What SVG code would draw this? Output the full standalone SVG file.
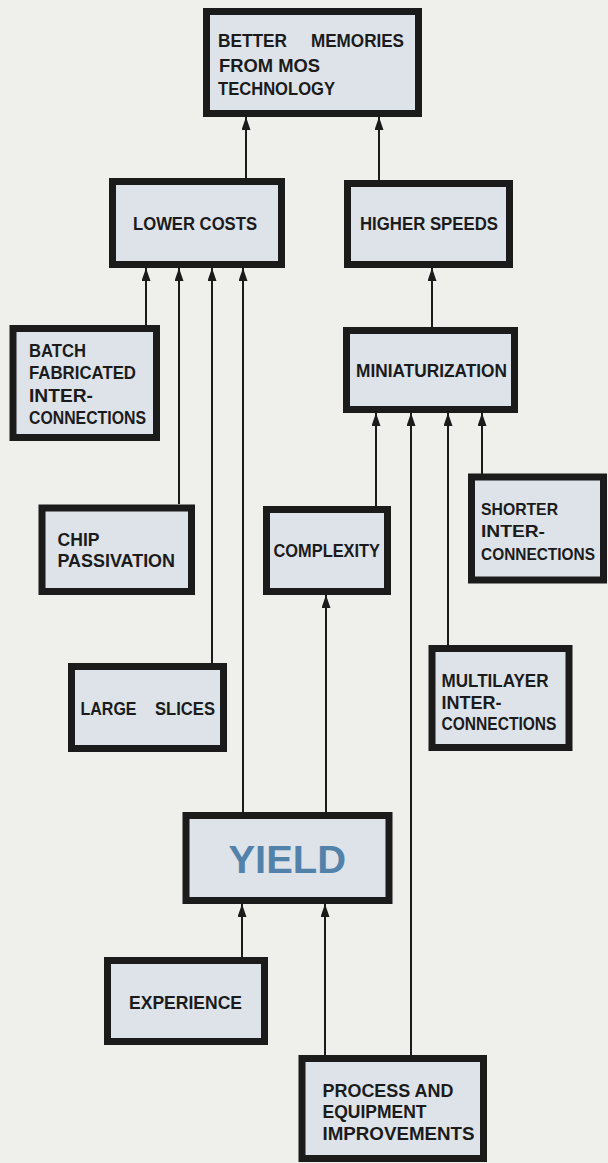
<svg xmlns="http://www.w3.org/2000/svg" width="608" height="1163" viewBox="0 0 608 1163">
<defs>
<style>
.bg{fill:#efefec}
.box{fill:#dde3e9;stroke:#1b1b1b;stroke-width:7}
.lbl{font-family:"Liberation Sans",Arial,sans-serif;font-weight:bold;font-size:19px;fill:#1b1b1b}
.sm{font-size:16.5px}
.yield{font-family:"Liberation Sans",Arial,sans-serif;font-weight:bold;font-size:38px;fill:#5282aa}
.cn{stroke:#1b1b1b;stroke-width:2;fill:none;marker-end:url(#ah)}
</style>
<marker id="ah" markerUnits="userSpaceOnUse" markerWidth="14" markerHeight="10" refX="13" refY="4.5" orient="auto">
<path d="M0,0 L13,4.5 L0,9 Z" fill="#1b1b1b"/>
</marker>
</defs>
<rect class="bg" x="0" y="0" width="608" height="1163"/>

<g id="connectors">
<line class="cn" x1="246" y1="178" x2="246" y2="117"/>
<line class="cn" x1="379" y1="180" x2="379" y2="117"/>
<line class="cn" x1="146" y1="325" x2="146" y2="268"/>
<line class="cn" x1="179" y1="504" x2="179" y2="268"/>
<line class="cn" x1="212" y1="663" x2="212" y2="268"/>
<line class="cn" x1="243" y1="812" x2="243" y2="268"/>
<line class="cn" x1="432" y1="327" x2="432" y2="268"/>
<line class="cn" x1="376" y1="506" x2="376" y2="413"/>
<line class="cn" x1="411" y1="1055" x2="411" y2="413"/>
<line class="cn" x1="448" y1="645" x2="448" y2="413"/>
<line class="cn" x1="482" y1="474" x2="482" y2="413"/>
<line class="cn" x1="326" y1="812" x2="326" y2="595"/>
<line class="cn" x1="242" y1="957" x2="242" y2="904"/>
<line class="cn" x1="325" y1="1055" x2="325" y2="904"/>
</g>

<g id="better-memories">
<rect class="box" x="206.5" y="11.5" width="212" height="102"/>
<text class="lbl" y="47"><tspan x="218" textLength="69" lengthAdjust="spacingAndGlyphs">BETTER</tspan><tspan x="311" textLength="93" lengthAdjust="spacingAndGlyphs">MEMORIES</tspan></text>
<text class="lbl" x="219" y="72" textLength="101" lengthAdjust="spacingAndGlyphs">FROM MOS</text>
<text class="lbl" x="218" y="95" textLength="117" lengthAdjust="spacingAndGlyphs">TECHNOLOGY</text>
</g>

<g id="lower-costs">
<rect class="box" x="112.5" y="181.5" width="169" height="83"/>
<text class="lbl" x="133" y="230" textLength="124" lengthAdjust="spacingAndGlyphs">LOWER COSTS</text>
</g>

<g id="higher-speeds">
<rect class="box" x="347.5" y="183.5" width="162" height="81"/>
<text class="lbl" x="360" y="230" textLength="138" lengthAdjust="spacingAndGlyphs">HIGHER SPEEDS</text>
</g>

<g id="batch">
<rect class="box" x="13" y="328.5" width="143.5" height="109"/>
<text class="lbl" x="29" y="357" textLength="57" lengthAdjust="spacingAndGlyphs">BATCH</text>
<text class="lbl" x="29" y="379" textLength="107" lengthAdjust="spacingAndGlyphs">FABRICATED</text>
<text class="lbl" x="29" y="401.5" textLength="64" lengthAdjust="spacingAndGlyphs">INTER-</text>
<text class="lbl" x="29" y="424" textLength="117" lengthAdjust="spacingAndGlyphs">CONNECTIONS</text>
</g>

<g id="miniaturization">
<rect class="box" x="346.5" y="330.5" width="168" height="79"/>
<text class="lbl" x="356" y="377" textLength="151" lengthAdjust="spacingAndGlyphs">MINIATURIZATION</text>
</g>

<g id="chip-passivation">
<rect class="box" x="42" y="508" width="149.5" height="83.5"/>
<text class="lbl" x="57.5" y="546" textLength="42" lengthAdjust="spacingAndGlyphs">CHIP</text>
<text class="lbl" x="57.5" y="567" textLength="117.5" lengthAdjust="spacingAndGlyphs">PASSIVATION</text>
</g>

<g id="complexity">
<rect class="box" x="266.5" y="509.5" width="121" height="82"/>
<text class="lbl" x="273.5" y="557" textLength="106.5" lengthAdjust="spacingAndGlyphs">COMPLEXITY</text>
</g>

<g id="shorter">
<rect class="box" x="471.5" y="477" width="132" height="103"/>
<text class="lbl sm" x="481" y="515" textLength="77" lengthAdjust="spacingAndGlyphs">SHORTER</text>
<text class="lbl sm" x="481" y="537" textLength="64" lengthAdjust="spacingAndGlyphs">INTER-</text>
<text class="lbl sm" x="481" y="560" textLength="114" lengthAdjust="spacingAndGlyphs">CONNECTIONS</text>
</g>

<g id="large-slices">
<rect class="box" x="71.5" y="666.5" width="152" height="82"/>
<text class="lbl" y="714.5"><tspan x="80.5" textLength="56" lengthAdjust="spacingAndGlyphs">LARGE</tspan><tspan x="155" textLength="60" lengthAdjust="spacingAndGlyphs">SLICES</tspan></text>
</g>

<g id="multilayer">
<rect class="box" x="432" y="648.5" width="137" height="99"/>
<text class="lbl" x="441.5" y="686.5" textLength="107" lengthAdjust="spacingAndGlyphs">MULTILAYER</text>
<text class="lbl" x="441.5" y="708.5" textLength="60" lengthAdjust="spacingAndGlyphs">INTER-</text>
<text class="lbl" x="441.5" y="729.5" textLength="115" lengthAdjust="spacingAndGlyphs">CONNECTIONS</text>
</g>

<g id="yield">
<rect class="box" x="186" y="815.5" width="203" height="85"/>
<text class="yield" x="228.5" y="873" textLength="117.5" lengthAdjust="spacingAndGlyphs">YIELD</text>
</g>

<g id="experience">
<rect class="box" x="107.5" y="960.5" width="157" height="81"/>
<text class="lbl" x="129" y="1008.5" textLength="113" lengthAdjust="spacingAndGlyphs">EXPERIENCE</text>
</g>

<g id="process">
<rect class="box" x="302" y="1058.5" width="181.5" height="100"/>
<text class="lbl" x="322.5" y="1097" textLength="131" lengthAdjust="spacingAndGlyphs">PROCESS AND</text>
<text class="lbl" x="322.5" y="1117.5" textLength="104" lengthAdjust="spacingAndGlyphs">EQUIPMENT</text>
<text class="lbl" x="322.5" y="1140" textLength="152" lengthAdjust="spacingAndGlyphs">IMPROVEMENTS</text>
</g>
</svg>
